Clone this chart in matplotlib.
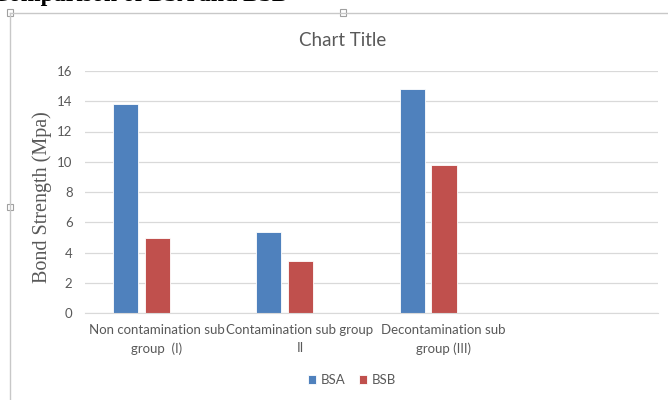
import matplotlib
matplotlib.use("Agg")
from matplotlib import pyplot as plt
from matplotlib.patches import Rectangle

categories = ["Non contamination sub\ngroup  (I)", "Contamination sub group\nII",
              "Decontamination sub\ngroup (III)", ""]
bsa = [13.8, 5.35, 14.8, None]
bsb = [4.97, 3.41, 9.8, None]
series_names = ["BSA", "BSB"]
yticks = [0, 2, 4, 6, 8, 10, 12, 14, 16]

colors = ["#4F81BD", "#C0504D"]
grey = "#595959"
W, H = 668, 400

fig = plt.figure(figsize=(W / 100, H / 100), dpi=100)
fig.patch.set_facecolor("white")

# axes placed in pixel units
left, right, bottom, top = 85, 658, 313, 71
ax = fig.add_axes([left / W, 1 - bottom / H, (right - left) / W, (bottom - top) / H])

offsets = [-0.217, 0.006]
width = 0.175
for vals, off, c, name in zip([bsa, bsb], offsets, colors, series_names):
    xs = [i + off for i, v in enumerate(vals) if v is not None]
    ys = [v for v in vals if v is not None]
    ax.bar(xs, ys, width=width, color=c, edgecolor="white", linewidth=0.6,
           label=name, zorder=3)

ax.set_xlim(-0.5, len(categories) - 0.5)
ax.set_ylim(0, 16)
ax.set_yticks(yticks)
ax.set_xticks(range(len(categories)))
ax.set_xticklabels(categories, fontsize=9.5, color=grey, family="Lato", linespacing=1.6)
ax.tick_params(axis="both", length=0, colors=grey, labelsize=9.5)
ax.tick_params(axis="x", pad=8)
ax.tick_params(axis="y", pad=9)
for lab in ax.get_yticklabels():
    lab.set_family("Lato")
ax.grid(axis="y", color="#D9D9D9", linewidth=0.9, zorder=0)
for s in ["left", "right", "top"]:
    ax.spines[s].set_visible(False)
ax.spines["bottom"].set_color("#D9D9D9")
ax.spines["bottom"].set_zorder(4)

ax.set_ylabel("Bond Strength (Mpa)", family="Liberation Serif", fontsize=14.5,
              color=grey)
ax.yaxis.set_label_coords((52 - left) / (right - left), 0.48)

fig.text(343 / W, 1 - 40 / H, "Chart Title", ha="center", va="center",
         fontsize=13.5, color=grey, family="Lato")

leg = fig.legend(loc="center", bbox_to_anchor=(352 / W, 1 - 380 / H), ncol=2,
                 frameon=False, fontsize=9.5, handlelength=0.6, handleheight=0.6,
                 columnspacing=1.0, handletextpad=0.4)
for t in leg.get_texts():
    t.set_color(grey)
    t.set_family("Lato")

# clipped document heading above the chart frame
fig.text(287 / W, 1 - 1 / H, "Comparison of BSA and BSB", ha="right", va="baseline",
         fontsize=17, fontweight="bold", family="Liberation Serif", color="black")

# chart frame and selection handles
fig.add_artist(plt.Line2D([10 / W, 10 / W], [0, 1 - 12.5 / H], color="#C8C8C8",
                          linewidth=1.0, transform=fig.transFigure))
fig.add_artist(plt.Line2D([10 / W, 1], [1 - 12.5 / H, 1 - 12.5 / H], color="#C8C8C8",
                          linewidth=1.0, transform=fig.transFigure))
for hx, hy in [(10, 12.5), (343, 12.5), (10, 207)]:
    fig.add_artist(Rectangle(((hx - 3) / W, 1 - (hy + 3) / H), 6 / W, 6 / H,
                             facecolor="white", edgecolor="#A0A0A0", linewidth=0.8,
                             transform=fig.transFigure))

fig.savefig("out.png", dpi=100)
